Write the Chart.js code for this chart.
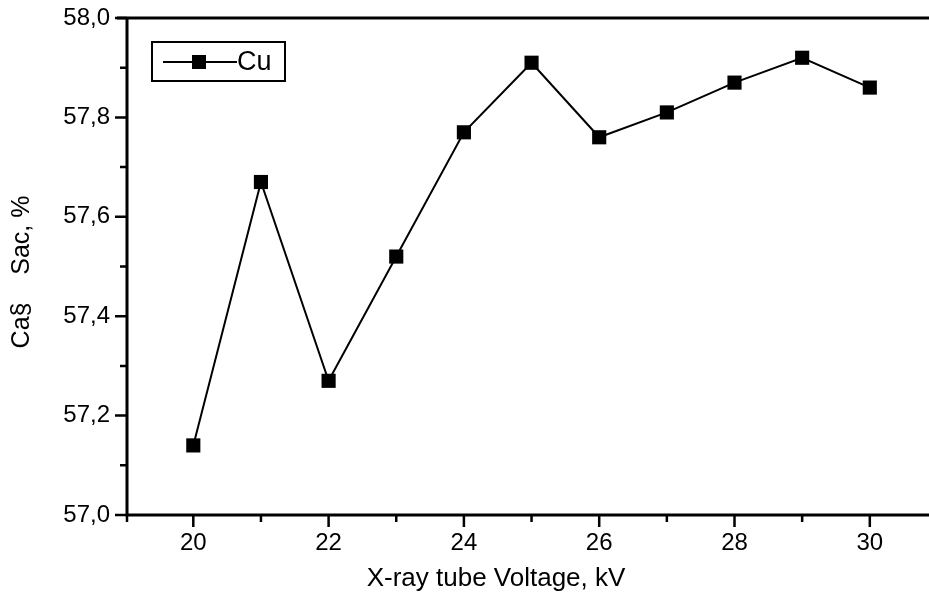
<!DOCTYPE html>
<html>
<head>
<meta charset="utf-8">
<script src="https://cdn.jsdelivr.net/npm/chart.js@4"></script>
<style>
  html, body { margin: 0; padding: 0; background: #fff; }
  #wrap { width: 929px; height: 598px; position: relative; }
</style>
</head>
<body>
<div id="wrap"><canvas id="c"></canvas></div>
<script>
// Cu content versus X-ray tube voltage
const voltage = [20, 21, 22, 23, 24, 25, 26, 27, 28, 29, 30];
const cuConc  = [57.14, 57.67, 57.27, 57.52, 57.77, 57.91, 57.76, 57.81, 57.87, 57.92, 57.86];

const xMajorTicks = [20, 22, 24, 26, 28, 30];
const xMinorTicks = [21, 23, 25, 27, 29];
const yMajorTicks = [57.0, 57.2, 57.4, 57.6, 57.8, 58.0];
const yMinorTicks = [57.1, 57.3, 57.5, 57.7, 57.9];
const yTickLabels = ['57,0', '57,2', '57,4', '57,6', '57,8', '58,0'];

const seriesName = 'Cu';
const xTitle = 'X-ray tube Voltage, kV';
const yTitle = 'Ca§    Sac, %';

const FONT = 'Arial, "Liberation Sans", sans-serif';

// Frame, tick marks, axis titles and the inset legend
const framePlugin = {
  id: 'frame',
  afterDraw(chart) {
    const ctx = chart.ctx;
    const a = chart.chartArea;
    const xs = chart.scales.x, ys = chart.scales.y;
    ctx.save();
    ctx.strokeStyle = '#000';
    ctx.lineCap = 'butt';

    // axis box
    ctx.lineWidth = 3;
    ctx.beginPath();
    ctx.moveTo(a.left, a.top);
    ctx.lineTo(a.left, a.bottom);
    ctx.lineTo(a.right, a.bottom);
    ctx.moveTo(a.left - 10, a.top);
    ctx.lineTo(a.right, a.top);
    ctx.stroke();

    // y tick marks
    ctx.lineWidth = 2.5;
    ctx.beginPath();
    yMajorTicks.forEach(v => {
      const p = ys.getPixelForValue(v);
      ctx.moveTo(a.left - 12, p); ctx.lineTo(a.left, p);
    });
    yMinorTicks.forEach(v => {
      const p = ys.getPixelForValue(v);
      ctx.moveTo(a.left - 7, p); ctx.lineTo(a.left, p);
    });
    // x tick marks
    xMajorTicks.forEach(v => {
      const p = xs.getPixelForValue(v);
      ctx.moveTo(p, a.bottom); ctx.lineTo(p, a.bottom + 12);
    });
    xMinorTicks.forEach(v => {
      const p = xs.getPixelForValue(v);
      ctx.moveTo(p, a.bottom); ctx.lineTo(p, a.bottom + 7);
    });
    ctx.moveTo(a.left, a.bottom); ctx.lineTo(a.left, a.bottom + 7);
    ctx.stroke();

    // axis titles
    ctx.fillStyle = '#000';
    ctx.font = '26px ' + FONT;
    ctx.textAlign = 'center';
    ctx.textBaseline = 'middle';
    ctx.fillText(xTitle, 496, 579);
    ctx.save();
    ctx.translate(22, 272);
    ctx.rotate(-Math.PI / 2);
    ctx.font = '25px ' + FONT;
    ctx.fillText(yTitle, 0, 0);
    ctx.restore();

    // legend box
    const ds = chart.data.datasets[0];
    ctx.lineWidth = 2;
    ctx.strokeRect(152, 42, 133, 39);
    ctx.beginPath();
    ctx.moveTo(163, 62); ctx.lineTo(237, 62);
    ctx.stroke();
    ctx.fillRect(199 - 7, 62 - 7, 14, 14);
    ctx.font = '27px ' + FONT;
    ctx.textAlign = 'left';
    ctx.fillText(ds.label, 237, 63);
    ctx.restore();
  }
};

new Chart(document.getElementById('c'), {
  type: 'line',
  data: {
    datasets: [{
      label: seriesName,
      data: voltage.map((v, i) => ({ x: v, y: cuConc[i] })),
      borderColor: '#000',
      backgroundColor: '#000',
      borderWidth: 2,
      tension: 0,
      pointStyle: 'rect',
      pointRadius: 10,
      pointHoverRadius: 10,
      pointBorderWidth: 0
    }]
  },
  options: {
    responsive: true,
    maintainAspectRatio: false,
    animation: false,
    events: [],
    layout: { autoPadding: false, padding: { top: 18, right: 0, left: 0, bottom: 0 } },
    plugins: {
      legend: { display: false },
      tooltip: { enabled: false }
    },
    scales: {
      x: {
        type: 'linear',
        min: 19.02,
        max: 30.875,
        grid: { display: false, drawTicks: false },
        border: { display: false },
        afterBuildTicks(scale) { scale.ticks = xMajorTicks.map(v => ({ value: v })); },
        afterFit(scale) {
          scale.height = 83;
          scale.paddingLeft = 0; scale.paddingRight = 0;
        },
        ticks: {
          color: '#000',
          font: { family: FONT, size: 24 },
          padding: 14,
          maxRotation: 0,
          autoSkip: false,
          callback: v => String(v)
        }
      },
      y: {
        min: 57,
        max: 58,
        grid: { display: false, drawTicks: false },
        border: { display: false },
        afterBuildTicks(scale) { scale.ticks = yMajorTicks.map(v => ({ value: v })); },
        afterFit(scale) {
          scale.width = 127;
          scale.paddingTop = 0; scale.paddingBottom = 0;
        },
        ticks: {
          color: '#000',
          font: { family: FONT, size: 24 },
          padding: 17,
          autoSkip: false,
          callback: (v) => {
            const i = yMajorTicks.findIndex(t => Math.abs(t - v) < 1e-6);
            return i >= 0 ? yTickLabels[i] : '';
          }
        }
      }
    }
  },
  plugins: [framePlugin]
});
</script>
</body>
</html>
